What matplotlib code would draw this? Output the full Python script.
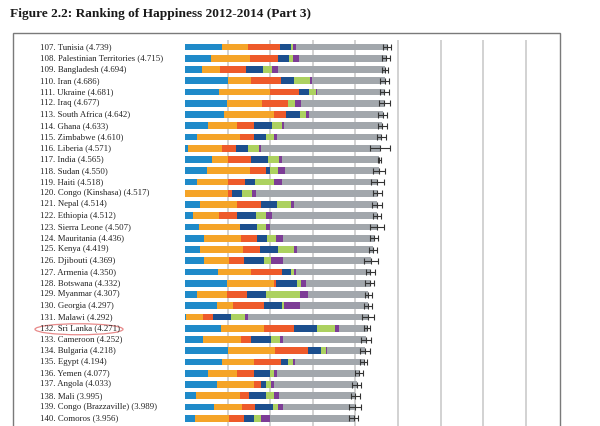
import matplotlib
matplotlib.use('Agg')
import matplotlib.pyplot as plt
from matplotlib.patches import Rectangle, Ellipse
import numpy as np

# Ranking of happiness 2012-2014, ranks 107-140
ranks = list(range(107, 141))
countries = ['Tunisia', 'Palestinian Territories', 'Bangladesh', 'Iran', 'Ukraine',
             'Iraq', 'South Africa', 'Ghana', 'Zimbabwe', 'Liberia', 'India', 'Sudan',
             'Haiti', 'Congo (Kinshasa)', 'Nepal', 'Ethiopia', 'Sierra Leone',
             'Mauritania', 'Kenya', 'Djibouti', 'Armenia', 'Botswana', 'Myanmar',
             'Georgia', 'Malawi', 'Sri Lanka', 'Cameroon', 'Bulgaria', 'Egypt',
             'Yemen', 'Angola', 'Mali', 'Congo (Brazzaville)', 'Comoros']
scores = [4.739, 4.715, 4.694, 4.686, 4.681, 4.677, 4.642, 4.633, 4.610, 4.571,
          4.565, 4.550, 4.518, 4.517, 4.514, 4.512, 4.507, 4.436, 4.419, 4.369,
          4.350, 4.332, 4.307, 4.297, 4.292, 4.271, 4.252, 4.218, 4.194, 4.077,
          4.033, 3.995, 3.989, 3.956]

# explained parts
gdp = [0.88, 0.60, 0.40, 1.01, 0.80, 0.99, 0.92, 0.55, 0.27, 0.07, 0.64, 0.52,
       0.27, 0.00, 0.36, 0.19, 0.33, 0.45, 0.36, 0.44, 0.77, 0.99, 0.27, 0.74,
       0.02, 0.84, 0.42, 1.01, 0.88, 0.55, 0.76, 0.26, 0.68, 0.24]
social = [0.60, 0.93, 0.43, 0.54, 1.20, 0.82, 1.18, 0.68, 1.03, 0.79, 0.38, 1.01,
          0.74, 1.00, 0.86, 0.60, 0.96, 0.87, 1.00, 0.59, 0.78, 1.10, 0.71, 0.39,
          0.41, 1.02, 0.89, 1.11, 0.75, 0.68, 0.86, 1.04, 0.66, 0.79]
health = [0.74, 0.66, 0.60, 0.70, 0.67, 0.60, 0.28, 0.40, 0.33, 0.34, 0.52, 0.37,
          0.39, 0.10, 0.57, 0.44, 0.00, 0.36, 0.41, 0.36, 0.73, 0.05, 0.48, 0.73,
          0.23, 0.71, 0.23, 0.77, 0.62, 0.40, 0.17, 0.21, 0.31, 0.36]
freedom = [0.26, 0.24, 0.41, 0.30, 0.25, 0.00, 0.33, 0.42, 0.26, 0.29, 0.40, 0.10,
           0.24, 0.23, 0.38, 0.43, 0.41, 0.24, 0.42, 0.46, 0.20, 0.49, 0.44, 0.41,
           0.43, 0.54, 0.49, 0.31, 0.17, 0.36, 0.10, 0.39, 0.41, 0.23]
generosity = [0.06, 0.11, 0.21, 0.38, 0.15, 0.18, 0.12, 0.23, 0.19, 0.24, 0.26, 0.19,
              0.46, 0.25, 0.32, 0.24, 0.21, 0.22, 0.38, 0.18, 0.08, 0.10, 0.80, 0.06,
              0.33, 0.41, 0.21, 0.12, 0.11, 0.09, 0.12, 0.19, 0.12, 0.17]
corruption = [0.06, 0.13, 0.13, 0.06, 0.03, 0.14, 0.09, 0.04, 0.08, 0.06, 0.08, 0.15,
              0.17, 0.08, 0.06, 0.15, 0.09, 0.17, 0.06, 0.28, 0.04, 0.12, 0.19, 0.38,
              0.07, 0.09, 0.06, 0.01, 0.06, 0.08, 0.07, 0.12, 0.12, 0.20]
# half width of the 95% interval
ci = [0.09, 0.10, 0.06, 0.11, 0.10, 0.13, 0.11, 0.10, 0.10, 0.23, 0.03, 0.14,
      0.15, 0.10, 0.12, 0.10, 0.16, 0.09, 0.09, 0.17, 0.10, 0.11, 0.08, 0.09,
      0.14, 0.08, 0.11, 0.12, 0.08, 0.09, 0.11, 0.11, 0.15, 0.10]

parts = [gdp, social, health, freedom, generosity, corruption]
colors = ['#1f8ac9', '#f5a428', '#ee5a2a', '#1c4f8e', '#acd160', '#7d3d96']
gray = '#a2a7ac'

W, H = 600, 426
fig = plt.figure(figsize=(W / 100, H / 100), dpi=100)

# axes placed in pixel terms
x0, x1, ytop = 185, 560, 40
ax = fig.add_axes([x0 / W, 0, (x1 - x0) / W, (H - ytop) / H])

n = len(countries)
y = np.arange(n)
left = np.zeros(n)
for vals, c in zip(parts, colors):
    ax.barh(y, vals, left=left, height=0.62, color=c, linewidth=0, zorder=2)
    left += np.array(vals)
rest = np.array(scores) - left
ax.barh(y, rest, left=left, height=0.62, color=gray, linewidth=0, zorder=2)

ax.errorbar(scores, y, xerr=ci, fmt='|', color='#333333', ms=5, mew=0.8,
            elinewidth=0.8, capsize=2.2, capthick=0.8, zorder=3)

unit = 42.6
ax.set_xlim(0, (x1 - x0) / unit)
row = 11.25
first = 47
top = -(first - ytop) / row
ax.set_ylim(top + (H - ytop) / row, top)
for k in range(1, 9):
    ax.axvline(k, color='#cfcfcf', lw=1.3, zorder=1)
ax.axis('off')

# labels
for i in range(n):
    ypix = first + i * row
    fig.text(40 / W, 1 - ypix / H, f'{ranks[i]}. {countries[i]} ({scores[i]:.3f})',
             fontsize=6.3, family='Liberation Serif', color='#222222',
             ha='left', va='center')

# highlight Sri Lanka
i_sl = countries.index('Sri Lanka')
fig.patches.append(Ellipse((79 / W, 1 - (first + i_sl * row + 1) / H), 88 / W, 11 / H,
                           transform=fig.transFigure, fill=False,
                           edgecolor='#e88a8a', lw=0.9))

# frame
fig.patches.append(Rectangle((13 / W, -0.05), (560 - 13) / W, 1.05 - 33 / H,
                             transform=fig.transFigure, fill=False,
                             edgecolor='#7a7a7a', lw=1.0))

fig.text(10 / W, 1 - 14 / H, 'Figure 2.2: Ranking of Happiness 2012-2014 (Part 3)',
         fontsize=9.6, fontweight='bold', family='Liberation Serif',
         color='#1a1a1a', ha='left', va='center')

fig.savefig('out.png', dpi=100)
